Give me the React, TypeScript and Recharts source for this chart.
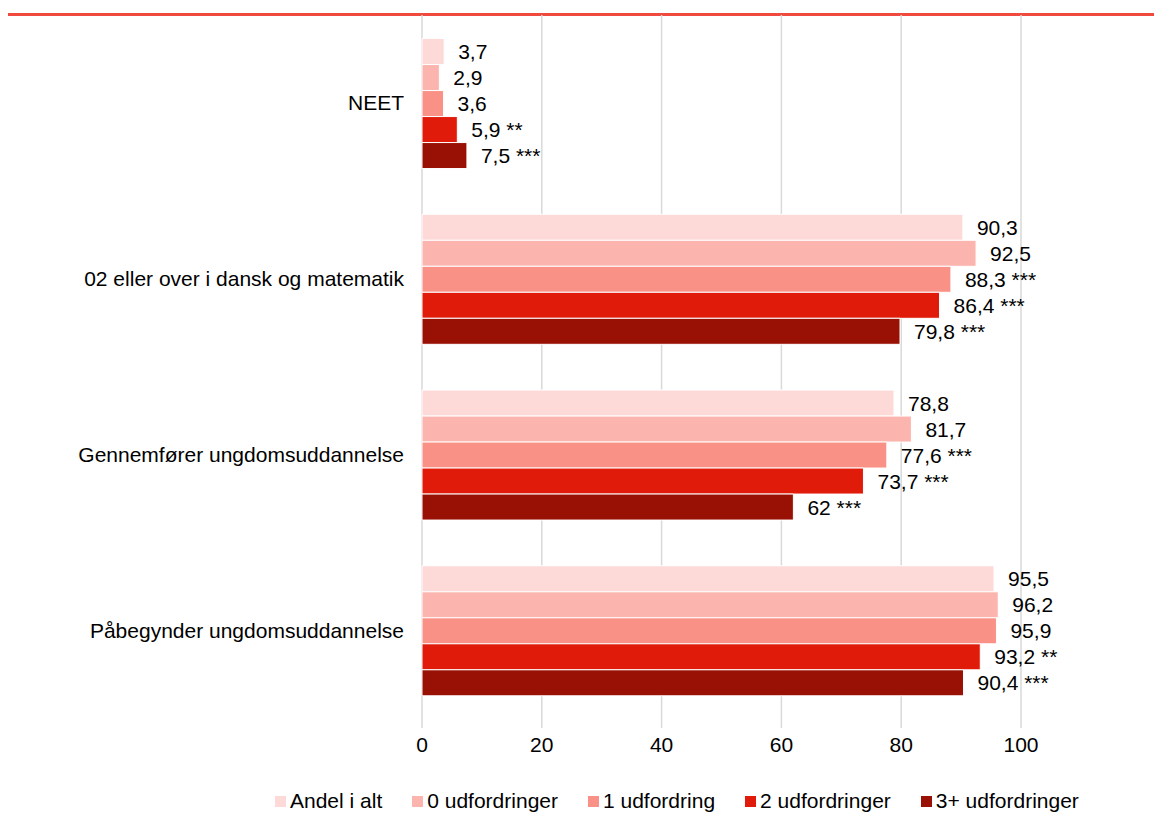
import React from 'react';
import { BarChart, Bar, XAxis, YAxis, CartesianGrid, LabelList, Legend } from 'recharts';

const categories = [
  'NEET',
  '02 eller over i dansk og matematik',
  'Gennemfører ungdomsuddannelse',
  'Påbegynder ungdomsuddannelse',
];

const seriesNames = ['Andel i alt', '0 udfordringer', '1 udfordring', '2 udfordringer', '3+ udfordringer'];
const COLORS = ['#fdd9d7', '#fbb5ae', '#fa9186', '#e01b0a', '#991005'];

const andelIAlt = [3.7, 90.3, 78.8, 95.5];
const nulUdf = [2.9, 92.5, 81.7, 96.2];
const enUdf = [3.6, 88.3, 77.6, 95.9];
const toUdf = [5.9, 86.4, 73.7, 93.2];
const treUdf = [7.5, 79.8, 62, 90.4];

// significance markers per series, per category
const sigAndel = ['', '', '', ''];
const sigNul = ['', '', '', ''];
const sigEn = ['', '***', '***', ''];
const sigTo = ['**', '***', '***', '**'];
const sigTre = ['***', '***', '***', '***'];

const xTicks = [0, 20, 40, 60, 80, 100];

const values = [andelIAlt, nulUdf, enUdf, toUdf, treUdf];
const sigs = [sigAndel, sigNul, sigEn, sigTo, sigTre];

const data = categories.map((name, i) => {
  const row: Record<string, any> = { name };
  values.forEach((arr, s) => {
    row[`s${s}`] = arr[i];
    row[`l${s}`] = String(arr[i]).replace('.', ',') + (sigs[s][i] ? ' ' + sigs[s][i] : '');
  });
  return row;
});

const FONT = '"Liberation Sans", Arial, sans-serif';
const FS = 21;

const LegendContent = () => (
  <div
    style={{
      display: 'flex',
      justifyContent: 'flex-start',
      paddingLeft: 275,
      paddingTop: 16,
      lineHeight: '24px',
      fontFamily: FONT,
      fontSize: FS,
      color: '#000',
      whiteSpace: 'nowrap',
    }}
  >
    {seriesNames.map((n, i) => (
      <span key={n} style={{ display: 'inline-flex', alignItems: 'center', marginRight: i < seriesNames.length - 1 ? 30 : 0 }}>
        <span style={{ width: 11, height: 11, background: COLORS[i], display: 'inline-block', marginRight: 4 }} />
        {n}
      </span>
    ))}
  </div>
);

export default function App() {
  return (
    <div style={{ position: 'relative', margin: -8, width: 1162, height: 823, background: '#fff' }}>
      <div style={{ position: 'absolute', left: 4, right: 0, top: 13, height: 3, background: '#f04a3e' }} />
      <BarChart
        width={1162}
        height={823}
        data={data}
        layout="vertical"
        margin={{ top: 15, right: 141, bottom: 0, left: 0 }}
        barCategoryGap="13.4%"
        barGap={0}
      >
        <CartesianGrid horizontal={false} stroke="#d9d9d9" strokeWidth={1.5} />
        <XAxis
          type="number"
          domain={[0, 100]}
          ticks={xTicks}
          axisLine={false}
          tickLine={{ stroke: '#d9d9d9', strokeWidth: 1.5 }}
          tickSize={10}
          tickMargin={9}
          height={55}
          tick={{ fill: '#000', fontSize: FS, fontFamily: FONT }}
        />
        <YAxis
          type="category"
          dataKey="name"
          width={422}
          axisLine={false}
          tickLine={false}
          tickMargin={12}
          tick={{ fill: '#000', fontSize: FS, fontFamily: FONT }}
        />
        {seriesNames.map((n, i) => (
          <Bar key={n} dataKey={`s${i}`} name={n} fill={COLORS[i]} stroke="#fff" strokeWidth={1} isAnimationActive={false}>
            <LabelList dataKey={`l${i}`} position="right" offset={14} fill="#000" fontSize={FS} fontFamily={FONT} />
          </Bar>
        ))}
        <Legend verticalAlign="bottom" height={50} content={<LegendContent />} />
      </BarChart>
    </div>
  );
}
